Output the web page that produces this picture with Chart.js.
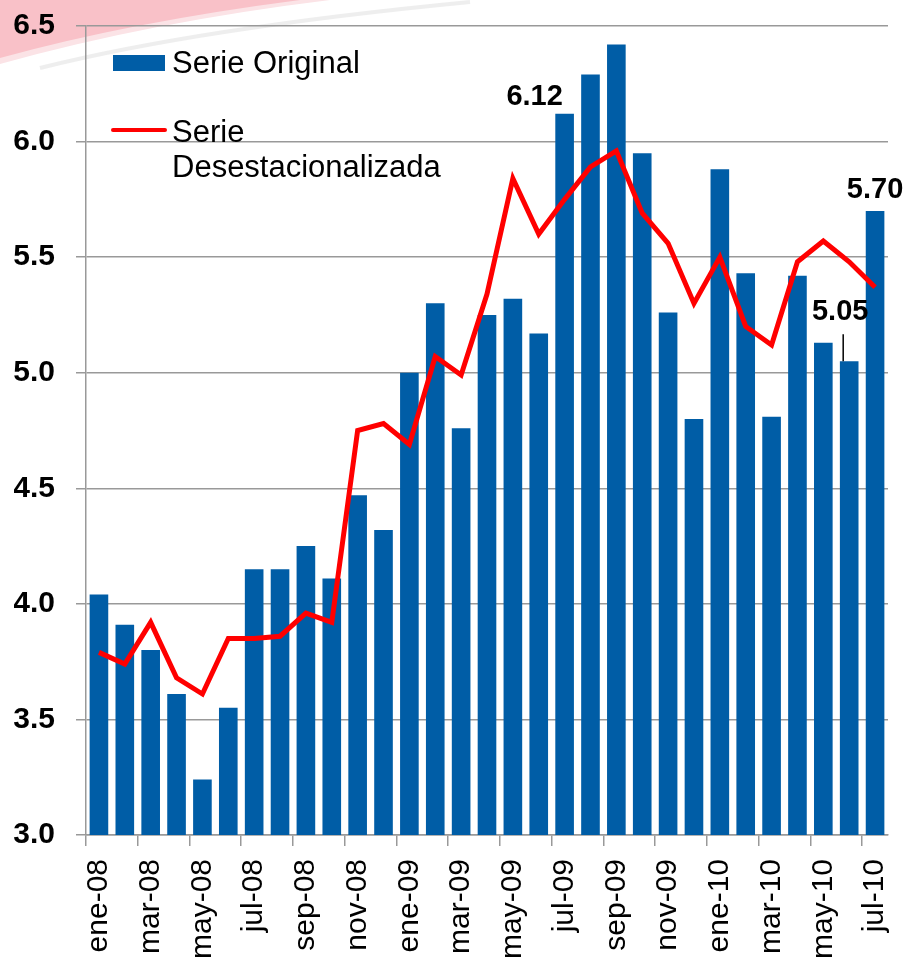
<!DOCTYPE html>
<html>
<head>
<meta charset="utf-8">
<script src="https://cdn.jsdelivr.net/npm/chart.js@4.4.1/dist/chart.umd.min.js"></script>
<style>
  body { margin: 0; background: #fff; }
  #wrap { width: 906px; height: 959px; position: relative; }
</style>
</head>
<body>
<div id="wrap"><canvas id="main-chart"></canvas></div>
<script>
const months = ['ene-08','feb-08','mar-08','abr-08','may-08','jun-08','jul-08','ago-08','sep-08','oct-08','nov-08','dic-08',
  'ene-09','feb-09','mar-09','abr-09','may-09','jun-09','jul-09','ago-09','sep-09','oct-09','nov-09','dic-09',
  'ene-10','feb-10','mar-10','abr-10','may-10','jun-10','jul-10'];

const serieOriginal = [4.04, 3.91, 3.80, 3.61, 3.24, 3.55, 4.15, 4.15, 4.25, 4.11, 4.47, 4.32,
  5.00, 5.30, 4.76, 5.25, 5.32, 5.17, 6.12, 6.29, 6.42, 5.95, 5.26, 4.80,
  5.88, 5.43, 4.81, 5.42, 5.13, 5.05, 5.70];

const serieDesest = [3.79, 3.74, 3.92, 3.68, 3.61, 3.85, 3.85, 3.86, 3.96, 3.92, 4.75, 4.78,
  4.69, 5.07, 4.99, 5.34, 5.84, 5.60, 5.75, 5.89, 5.96, 5.69, 5.56, 5.30,
  5.50, 5.20, 5.12, 5.48, 5.57, 5.48, 5.37];

const yTicks = [3.0, 3.5, 4.0, 4.5, 5.0, 5.5, 6.0, 6.5];

// labelled points: [index, text, dx, dy, leader line]
const callouts = [[18, '6.12', -30, -17, false], [29, '5.05', -9, -49, true], [30, '5.70', 0, -21, false]];

const BLUE = '#005da6';
const RED = '#ff0000';
const FONT = '"Liberation Sans", Arial, sans-serif';

// pink swoosh in the corner (background art)
const swoosh = {
  id: 'swoosh',
  beforeDraw(chart) {
    const ctx = chart.ctx;
    ctx.save();
    ctx.fillStyle = '#fbe3e6';
    ctx.beginPath();
    ctx.moveTo(0, 0);
    ctx.lineTo(330, 0);
    ctx.quadraticCurveTo(150, 22, 0, 64);
    ctx.closePath();
    ctx.fill();
    ctx.fillStyle = '#f9c1c8';
    ctx.beginPath();
    ctx.moveTo(0, 0);
    ctx.lineTo(300, 0);
    ctx.quadraticCurveTo(130, 22, 0, 58);
    ctx.closePath();
    ctx.fill();
    ctx.strokeStyle = 'rgba(205,205,205,0.35)';
    ctx.lineWidth = 4;
    ctx.beginPath();
    ctx.moveTo(40, 68);
    ctx.quadraticCurveTo(200, 28, 470, 2);
    ctx.stroke();
    ctx.restore();
  }
};

const extras = {
  id: 'extras',
  afterDatasetsDraw(chart) {
    const ctx = chart.ctx;
    const area = chart.chartArea;
    const y = chart.scales.y;
    const bars = chart.getDatasetMeta(1).data;
    ctx.save();

    // legend
    const lx = area.left + 27;
    const ly = area.top + 29;
    ctx.fillStyle = BLUE;
    ctx.fillRect(lx, ly, 52, 16);
    ctx.strokeStyle = RED;
    ctx.lineWidth = 4;
    ctx.lineCap = 'round';
    ctx.beginPath();
    ctx.moveTo(lx, ly + 75);
    ctx.lineTo(lx + 52, ly + 75);
    ctx.stroke();
    ctx.fillStyle = '#000';
    ctx.font = '31px ' + FONT;
    ctx.textBaseline = 'middle';
    ctx.textAlign = 'left';
    ctx.fillText('Serie Original', lx + 59, ly + 9);
    ctx.fillText('Serie', lx + 59, ly + 78);
    ctx.fillText('Desestacionalizada', lx + 59, ly + 113);

    // value callouts
    ctx.font = 'bold 29px ' + FONT;
    ctx.textAlign = 'center';
    callouts.forEach(([i, text, dx, dy, leader]) => {
      const bx = bars[i].x;
      const by = y.getPixelForValue(serieOriginal[i]);
      ctx.fillStyle = '#000';
      ctx.fillText(text, bx + dx, by + dy);
      if (leader) {
        ctx.strokeStyle = '#000';
        ctx.lineWidth = 1.5;
        ctx.lineCap = 'butt';
        ctx.beginPath();
        ctx.moveTo(bx - 6, by + dy + 22);
        ctx.lineTo(bx - 6, by);
        ctx.stroke();
      }
    });
    ctx.restore();
  }
};

const config = {
  data: {
    labels: months,
    datasets: [
      {
        type: 'line',
        label: 'Serie Desestacionalizada',
        data: serieDesest,
        borderColor: RED,
        borderWidth: 5,
        pointRadius: 0,
        tension: 0,
        order: 0
      },
      {
        type: 'bar',
        label: 'Serie Original',
        data: serieOriginal,
        backgroundColor: BLUE,
        borderWidth: 0,
        categoryPercentage: 1,
        barPercentage: 0.72,
        order: 1
      }
    ]
  },
  options: {
    responsive: true,
    maintainAspectRatio: false,
    animation: false,
    layout: { padding: { top: 26, right: 18, left: 14, bottom: 0 } },
    plugins: {
      legend: { display: false },
      tooltip: { enabled: false }
    },
    scales: {
      x: {
        afterFit: axis => {
          axis.height = 124;
          axis.paddingLeft = 0;
          axis.paddingRight = 0;
        },
        grid: {
          offset: true,
          drawOnChartArea: false,
          drawTicks: true,
          tickLength: 11,
          lineWidth: 1.5,
          color: ctx => (ctx.index !== undefined && ctx.index % 2 === 0) ? '#999' : 'rgba(0,0,0,0)'
        },
        border: { color: '#999', width: 1.5 },
        ticks: {
          autoSkip: false,
          maxRotation: 90,
          minRotation: 90,
          padding: 13,
          color: '#000',
          font: { family: FONT, size: 30 },
          callback: (v, i) => i % 2 === 0 ? months[i] : ''
        }
      },
      y: {
        min: yTicks[0],
        max: yTicks[yTicks.length - 1],
        afterBuildTicks: axis => { axis.ticks = yTicks.map(v => ({ value: v })); },
        afterFit: axis => {
          axis.width = 72;
          axis.paddingTop = 0;
          axis.paddingBottom = 0;
        },
        grid: { color: '#999', lineWidth: 1.5, tickLength: 10 },
        border: { color: '#999', width: 1.5 },
        ticks: {
          padding: 21,
          color: '#000',
          font: { family: FONT, size: 30, weight: 'bold' },
          callback: v => v.toFixed(1)
        }
      }
    }
  },
  plugins: [swoosh, extras]
};

const mainChart = new Chart(document.getElementById('main-chart'), config);
</script>
</body>
</html>
